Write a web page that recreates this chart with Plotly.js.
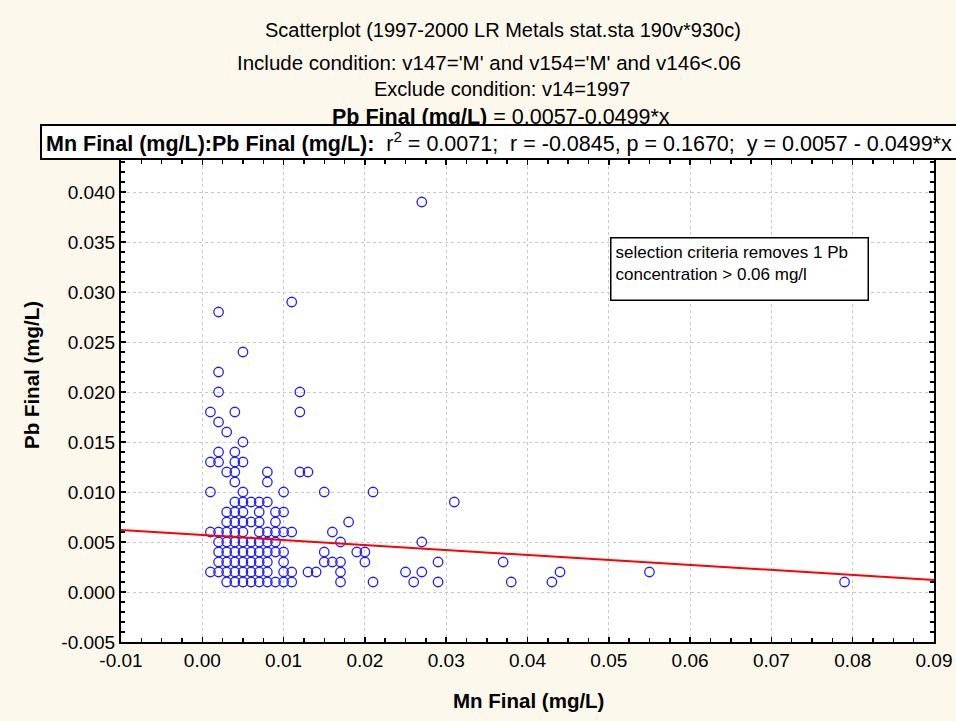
<!DOCTYPE html>
<html>
<head>
<meta charset="utf-8">
<script src="https://cdn.plot.ly/plotly-3.0.1.min.js"></script>
<style>
  html, body { margin: 0; padding: 0; background: #fdf8ec; }
  #chart { width: 956px; height: 721px; }
</style>
</head>
<body>
<div id="chart"></div>
<script>
// ---- data ----
const mnFinal = [
  0.027,
  0.011,
  0.002,
  0.005,
  0.002,
  0.002, 0.012,
  0.001, 0.004, 0.012,
  0.002,
  0.003,
  0.005,
  0.002, 0.004,
  0.001, 0.002, 0.004, 0.005,
  0.003, 0.004, 0.008, 0.012, 0.013,
  0.004, 0.008,
  0.001, 0.005, 0.010, 0.015, 0.021,
  0.004, 0.005, 0.006, 0.007, 0.008, 0.031,
  0.003, 0.004, 0.005, 0.007, 0.009, 0.010,
  0.003, 0.004, 0.005, 0.006, 0.007, 0.009, 0.018,
  0.001, 0.002, 0.003, 0.004, 0.005, 0.007, 0.008, 0.009, 0.010, 0.011, 0.016,
  0.002, 0.003, 0.004, 0.005, 0.006, 0.007, 0.008, 0.009, 0.017, 0.027,
  0.002, 0.003, 0.004, 0.005, 0.006, 0.007, 0.008, 0.009, 0.010, 0.015, 0.019, 0.020,
  0.002, 0.003, 0.004, 0.005, 0.006, 0.007, 0.008, 0.010, 0.015, 0.016, 0.017, 0.020, 0.029, 0.037,
  0.001, 0.002, 0.003, 0.004, 0.005, 0.006, 0.007, 0.008, 0.010, 0.011, 0.013, 0.014, 0.017, 0.025, 0.027, 0.044, 0.055,
  0.003, 0.004, 0.005, 0.006, 0.007, 0.008, 0.009, 0.010, 0.011, 0.017, 0.021, 0.026, 0.029, 0.038, 0.043, 0.079
];
const pbFinal = [
  0.039,
  0.029,
  0.028,
  0.024,
  0.022,
  0.020, 0.020,
  0.018, 0.018, 0.018,
  0.017,
  0.016,
  0.015,
  0.014, 0.014,
  0.013, 0.013, 0.013, 0.013,
  0.012, 0.012, 0.012, 0.012, 0.012,
  0.011, 0.011,
  0.010, 0.010, 0.010, 0.010, 0.010,
  0.009, 0.009, 0.009, 0.009, 0.009, 0.009,
  0.008, 0.008, 0.008, 0.008, 0.008, 0.008,
  0.007, 0.007, 0.007, 0.007, 0.007, 0.007, 0.007,
  0.006, 0.006, 0.006, 0.006, 0.006, 0.006, 0.006, 0.006, 0.006, 0.006, 0.006,
  0.005, 0.005, 0.005, 0.005, 0.005, 0.005, 0.005, 0.005, 0.005, 0.005,
  0.004, 0.004, 0.004, 0.004, 0.004, 0.004, 0.004, 0.004, 0.004, 0.004, 0.004, 0.004,
  0.003, 0.003, 0.003, 0.003, 0.003, 0.003, 0.003, 0.003, 0.003, 0.003, 0.003, 0.003, 0.003, 0.003,
  0.002, 0.002, 0.002, 0.002, 0.002, 0.002, 0.002, 0.002, 0.002, 0.002, 0.002, 0.002, 0.002, 0.002, 0.002, 0.002, 0.002,
  0.001, 0.001, 0.001, 0.001, 0.001, 0.001, 0.001, 0.001, 0.001, 0.001, 0.001, 0.001, 0.001, 0.001, 0.001, 0.001
];
// regression line stated on the chart: y = 0.0057 - 0.0499*x
const fitIntercept = 0.0057;
const fitSlope = -0.0499;
const fitX = [-0.01, 0.09];

const xTickVals = [-0.01, 0.00, 0.01, 0.02, 0.03, 0.04, 0.05, 0.06, 0.07, 0.08, 0.09];
const xTickText = ['-0.01', '0.00', '0.01', '0.02', '0.03', '0.04', '0.05', '0.06', '0.07', '0.08', '0.09'];
const yTickVals = [-0.005, 0.000, 0.005, 0.010, 0.015, 0.020, 0.025, 0.030, 0.035, 0.040];
const yTickText = ['-0.005', '0.000', '0.005', '0.010', '0.015', '0.020', '0.025', '0.030', '0.035', '0.040'];

const titleLines = [
  'Scatterplot (1997-2000 LR Metals stat.sta 190v*930c)',
  "Include condition: v147='M' and v154='M' and v146&lt;.06",
  'Exclude condition: v14=1997',
  '<b>Pb Final (mg/L)</b> = 0.0057-0.0499*x'
];
const statsText = '<b>Mn Final (mg/L):Pb Final (mg/L):</b>  r<sup>2</sup> = 0.0071;  r = -0.0845, p = 0.1670;  y = 0.0057 - 0.0499*x';
const noteText = 'selection criteria removes 1 Pb<br>concentration > 0.06 mg/l';
const xTitle = 'Mn Final (mg/L)';
const yTitle = 'Pb Final (mg/L)';

// ---- layout geometry ----
const W = 956, H = 721, L = 121, R = 22, T = 160, B = 79;
const PW = W - L - R, PH = H - T - B;
const px = v => (v - L) / PW;
const py = v => (H - B - v) / PH;
const FONT = 'Liberation Sans, Arial, sans-serif';

const fitY = fitX.map(x => fitIntercept + fitSlope * x);

const traces = [
  {
    type: 'scatter', mode: 'markers', x: mnFinal, y: pbFinal,
    marker: { symbol: 'circle-open', size: 9.5, color: '#1f1fff', line: { width: 1.3, color: '#1f1fff' } },
    hoverinfo: 'x+y', showlegend: false
  },
  {
    type: 'scatter', mode: 'lines', x: fitX, y: fitY,
    line: { color: '#ff0000', width: 2 }, showlegend: false, hoverinfo: 'skip'
  }
];

const titleY = [30, 62, 89, 117];
const titleX = [503, 489, 502, 501];
const titleSize = [20, 20.5, 20, 21.5];
const annotations = titleLines.map((t, i) => ({
  text: t, xref: 'paper', yref: 'paper', x: px(titleX[i]), y: py(titleY[i]),
  xanchor: 'center', yanchor: 'middle', showarrow: false,
  font: { family: FONT, size: titleSize[i], color: '#000' }
}));
annotations.push({
  text: statsText, xref: 'paper', yref: 'paper', x: px(40), y: py(124),
  xanchor: 'left', yanchor: 'top', showarrow: false,
  width: 912, height: 30, align: 'center', valign: 'middle',
  bgcolor: '#ffffff', bordercolor: '#000000', borderwidth: 2, borderpad: 1,
  font: { family: FONT, size: 21.5, color: '#000' }
});
annotations.push({
  text: noteText, xref: 'paper', yref: 'paper', x: px(610), y: py(237),
  xanchor: 'left', yanchor: 'top', showarrow: false,
  width: 248, height: 53, align: 'left', valign: 'top',
  bgcolor: '#ffffff', bordercolor: '#000000', borderwidth: 1.5, borderpad: 4,
  font: { family: FONT, size: 17, color: '#000' }
});
// axis titles
annotations.push({
  text: '<b>' + xTitle + '</b>', xref: 'paper', yref: 'paper', x: px(528), y: py(700),
  xanchor: 'center', yanchor: 'middle', showarrow: false,
  font: { family: FONT, size: 20.5, color: '#000' }
});
annotations.push({
  text: '<b>' + yTitle + '</b>', xref: 'paper', yref: 'paper', x: px(31), y: py(375),
  xanchor: 'center', yanchor: 'middle', showarrow: false, textangle: -90,
  font: { family: FONT, size: 20.5, color: '#000' }
});

const layout = {
  width: W, height: H,
  margin: { l: L, r: R, t: T, b: B, pad: 0 },
  paper_bgcolor: '#fdf8ec', plot_bgcolor: '#ffffff',
  font: { family: FONT, color: '#000' },
  xaxis: {
    range: [-0.01, 0.09], tickmode: 'array', tickvals: xTickVals, ticktext: xTickText,
    ticks: 'inside', ticklen: 5, tickwidth: 1.5, tickcolor: '#000',
    minor: { dtick: 0.0025, tick0: -0.01, ticks: 'inside', ticklen: 4, tickwidth: 1.5, tickcolor: '#000', showgrid: false },
    showline: true, linecolor: '#000', linewidth: 2, mirror: 'allticks',
    showgrid: true, gridcolor: '#c8c8c8', griddash: 'dot', gridwidth: 1,
    zeroline: false, tickfont: { family: FONT, size: 19 },
    automargin: false
  },
  yaxis: {
    range: [-0.005, 0.0432], tickmode: 'array', tickvals: yTickVals, ticktext: yTickText,
    ticks: 'inside', ticklen: 5, tickwidth: 1.5, tickcolor: '#000',
    minor: { dtick: 0.001, tick0: 0, ticks: 'inside', ticklen: 4, tickwidth: 1.5, tickcolor: '#000', showgrid: false },
    showline: true, linecolor: '#000', linewidth: 2, mirror: 'allticks',
    showgrid: true, gridcolor: '#c8c8c8', griddash: 'dot', gridwidth: 1,
    zeroline: false, tickfont: { family: FONT, size: 19 },
    automargin: false
  },
  annotations: annotations,
  showlegend: false
};

Plotly.newPlot('chart', traces, layout, { displayModeBar: false, staticPlot: true });
</script>
</body>
</html>
